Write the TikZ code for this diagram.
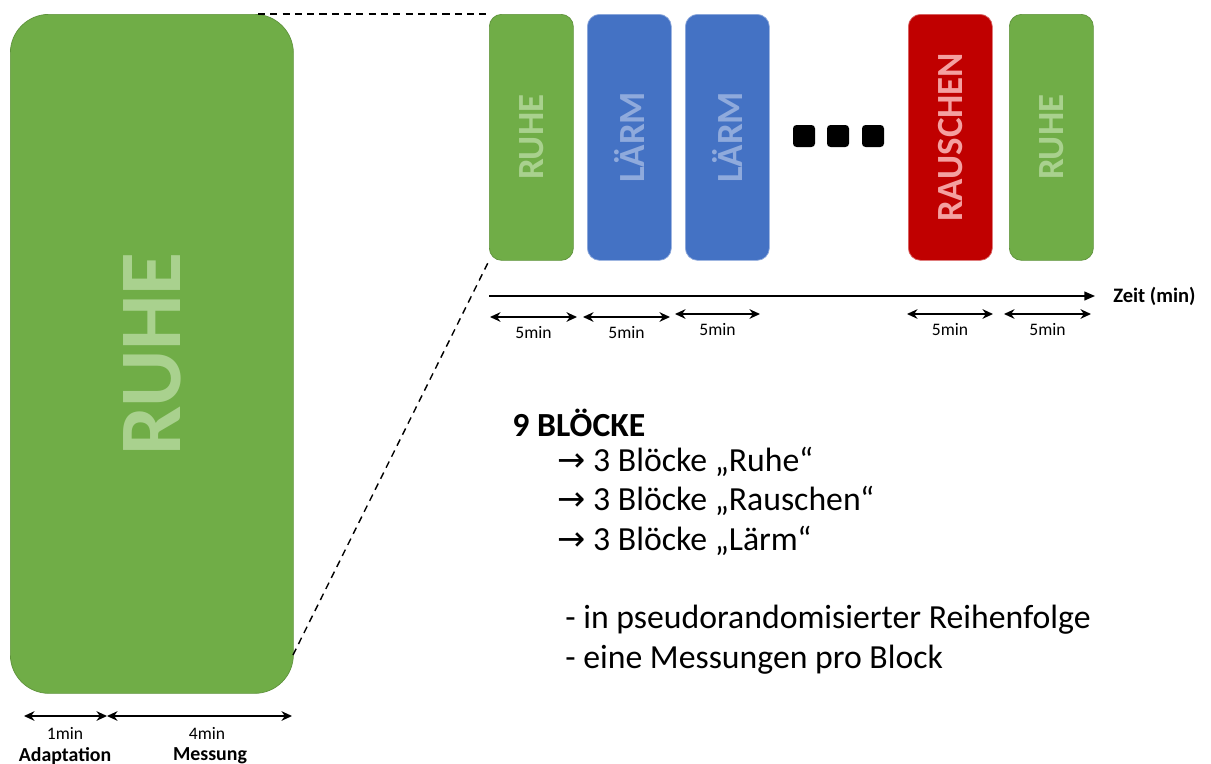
\documentclass[tikz,border=0pt]{standalone}
\usepackage{fontspec}
\setmainfont{Carlito}
\newfontfamily\pfeilfont{DejaVu Sans}
\usetikzlibrary{arrows.meta}

\definecolor{gruen}{HTML}{70AD47}
\definecolor{gruenhell}{HTML}{A9D18E}
\definecolor{blau}{HTML}{4472C4}
\definecolor{blauhell}{HTML}{8FAADC}
\definecolor{rot}{HTML}{C00000}
\definecolor{rothell}{HTML}{F4A0A0}

\begin{document}
\begin{tikzpicture}[
    x=0.02cm,
    y=-0.02cm,
    block/.style={rounded corners=7pt,inner sep=0pt,anchor=north west,
        minimum width=84*0.02cm,minimum height=246*0.02cm,
        font=\fontsize{21}{21}\selectfont\bfseries},
    ruhe/.style={block,fill=gruen,draw=gruen!85!black,line width=0.4pt,text=gruenhell},
    laerm/.style={block,fill=blau,draw=blau!60!white,line width=0.4pt,text=blauhell},
    rauschen/.style={block,fill=rot,draw=rot!60!white,line width=0.4pt,text=rothell},
    punkt/.style={fill=black,rounded corners=2pt,inner sep=0pt,
        minimum width=22*0.02cm,minimum height=22*0.02cm},
    zoomlinie/.style={dashed,dash pattern=on 4pt off 3pt,line width=0.8pt},
    dauer/.style={{Stealth[length=6pt,width=5.5pt]}-{Stealth[length=6pt,width=5.5pt]},line width=0.8pt},
    klein/.style={font=\fontsize{10}{10}\selectfont,inner sep=0pt},
    zeile/.style={anchor=west,inner sep=0pt,font=\fontsize{19.2}{21}\selectfont}
]

\useasboundingbox (0,0) rectangle (1211,764);

% =========================================================
% Grosser Block links
% =========================================================

\node[ruhe,rounded corners=22pt,minimum width=283*0.02cm,minimum height=679*0.02cm,
    font=\fontsize{50}{50}\selectfont\bfseries] (gross) at (10,14) {\rotatebox{90}{RUHE}};

% =========================================================
% Bloecke oben
% =========================================================

\node[ruhe]     (b1) at (489,14)  {\rotatebox{90}{RUHE}};
\node[laerm]    (b2) at (587,14)  {\rotatebox{90}{LÄRM}};
\node[laerm]    (b3) at (685,14)  {\rotatebox{90}{LÄRM}};
\node[rauschen] (b4) at (908,14)  {\rotatebox{90}{RAUSCHEN}};
\node[ruhe]     (b5) at (1009,14) {\rotatebox{90}{RUHE}};

\foreach \i/\x in {1/804,2/838,3/873}
    \node[punkt] (p\i) at (\x,136) {};

% =========================================================
% Vergroesserung (gestrichelt)
% =========================================================

\coordinate (zo) at (258,14);
\coordinate (zu) at (293,655);

\draw[zoomlinie] (zo) -- (b1.north west);
\draw[zoomlinie] (zu) -- (b1.south west);

% =========================================================
% Zeitachse
% =========================================================

\coordinate (t0) at (489,296);
\coordinate (t1) at (1095,296);

\draw[-{Triangle[length=6pt,width=5pt]},line width=0.8pt] (t0) -- (t1)
    node[right=10pt,inner sep=0pt,font=\fontsize{11.7}{12}\selectfont\bfseries] (zeit) {Zeit (min)};

\foreach \xa/\xb/\ya in {490/577/317,583/670/317,675/760/314,907/993/314,1004/1091/314}
    \draw[dauer] (\xa,\ya) -- (\xb,\ya) node[klein,midway,below=5pt] {5min};

% =========================================================
% Dauer unten
% =========================================================

\coordinate (d0) at (24,716);
\coordinate (d1) at (107,716);
\coordinate (d2) at (292,716);

\draw[dauer] (d0) -- (d1);
\draw[dauer] (d1) -- (d2);

\node[klein] (m1) at (65,733)  {1min};
\node[klein] (m2) at (207,733) {4min};
\node[klein,font=\fontsize{11.3}{12}\selectfont\bfseries] (n1) at (65,756)  {Adaptation};
\node[klein,font=\fontsize{11.3}{12}\selectfont\bfseries] (n2) at (210,756) {Messung};

% =========================================================
% Beschreibung
% =========================================================

\node[zeile,font=\fontsize{19.2}{21}\selectfont\bfseries] (titel) at (512,423) {9 BLÖCKE};
\node[zeile] (z1) at (557,462) {{\pfeilfont →} 3 Blöcke „Ruhe“};
\node[zeile] (z2) at (557,501) {{\pfeilfont →} 3 Blöcke „Rauschen“};
\node[zeile] (z3) at (557,541) {{\pfeilfont →} 3 Blöcke „Lärm“};
\node[zeile] (z4) at (565,620) {- in pseudorandomisierter Reihenfolge};
\node[zeile] (z5) at (565,660) {- eine Messungen pro Block};

\end{tikzpicture}
\end{document}
